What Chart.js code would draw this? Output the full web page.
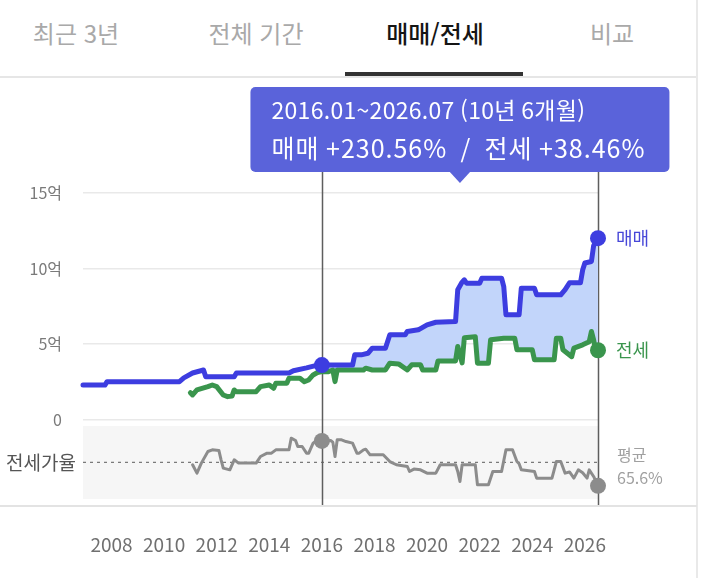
<!DOCTYPE html>
<html lang="ko">
<head>
<meta charset="utf-8">
<script src="https://cdn.jsdelivr.net/npm/chart.js@4.4.1/dist/chart.umd.min.js"></script>
<style>
  html, body { margin: 0; padding: 0; background: #fff; }
  body { width: 705px; height: 578px; position: relative; overflow: hidden;
         font-family: "Noto Sans CJK KR", "Noto Sans", sans-serif; }
  .tab { position: absolute; top: 13px; width: 180px; text-align: center;
         font-size: 24px; line-height: 40px; color: #a9a9a9; }
  .tab.on { color: #151515; font-weight: 500; }
  .bar { position: absolute; left: 345px; top: 72px; width: 178px; height: 4px; background: #333; }
  .rule { position: absolute; left: 0; top: 76px; width: 697px; height: 2px; background: #e6e6e6; }
  .edge { position: absolute; left: 696px; top: 0; width: 2px; height: 578px; background: #e9e9e9; }
  #wrap { position: absolute; left: 0; top: 80px; width: 705px; height: 498px; }
</style>
</head>
<body>
<div class="tab" style="left:-14px">최근 3년</div>
<div class="tab" style="left:166px">전체 기간</div>
<div class="tab on" style="left:345px">매매/전세</div>
<div class="tab" style="left:522px">비교</div>
<div class="bar"></div>
<div class="rule"></div>
<div class="edge"></div>
<div id="wrap"><canvas id="myChart"></canvas></div>

<script>
// 매매 (억)
const saleDates = ['2006.12','2007.10','2007.11','2010.08','2010.10','2011.02','2011.07','2011.08','2012.09','2012.10',
  '2014.10','2014.12','2015.06','2015.11','2016.01','2017.03','2017.04','2017.07','2017.10','2017.12',
  '2018.06','2018.08','2019.03','2019.04','2019.09','2020.01','2020.05','2021.02','2021.03','2021.05',
  '2021.06','2021.07','2022.01','2022.02','2022.11','2022.12','2023.01','2023.07','2023.08','2024.02',
  '2024.03','2025.02','2025.04','2025.06','2025.11','2025.12','2026.01','2026.04','2026.05','2026.07'];
const saleValues = [2.3,2.3,2.53,2.53,2.78,3.1,3.3,2.85,2.85,3.1,
  3.1,3.25,3.44,3.62,3.62,3.62,4.3,4.3,4.4,4.74,
  4.74,5.62,5.62,5.84,5.95,6.28,6.45,6.5,8.6,9.1,
  9.25,9.03,9.03,9.36,9.36,8.8,6.94,6.94,8.7,8.7,
  8.26,8.26,8.6,9.05,9.05,9.9,10.36,10.46,11.5,12.0];

// 전세 (억)
const jeonseDates = ['2011.01','2011.02','2011.04','2011.09','2011.11','2012.01','2012.04','2012.06','2012.08','2012.09',
  '2012.10','2013.07','2013.09','2014.01','2014.03','2014.04','2014.09','2014.10','2015.03','2015.05',
  '2015.07','2015.09','2015.11','2016.01','2016.04','2016.06','2016.07','2016.08','2017.08','2017.09',
  '2017.12','2018.06','2018.08','2018.12','2019.04','2019.06','2019.10','2019.11','2020.05','2020.06',
  '2021.02','2021.03','2021.05','2021.06','2021.11','2021.12','2022.05','2022.06','2022.12','2023.05',
  '2023.06','2024.01','2024.02','2024.11','2024.12','2025.02','2025.03','2025.05','2025.07','2025.08',
  '2025.12','2026.03','2026.04','2026.05','2026.06','2026.07'];
const jeonseValues = [1.8,1.65,1.98,2.2,2.31,2.2,1.65,1.54,1.58,1.98,
  1.87,1.87,2.2,2.31,2.09,2.42,2.42,2.75,2.75,2.53,
  2.64,2.97,3.13,3.2,3.19,3.3,2.53,3.3,3.3,3.42,
  3.3,3.3,3.75,3.7,3.3,3.64,3.64,3.3,3.3,3.9,
  3.9,4.85,3.77,5.42,5.5,3.75,3.75,5.29,5.4,5.4,
  4.63,4.63,3.97,3.97,5.4,5.4,4.63,4.4,4.18,4.74,
  4.96,5.17,5.84,5.29,4.5,4.6];

// 전세가율 (%)
const ratioDates = ['2011.02','2011.04','2011.06','2011.09','2011.11','2012.02','2012.03','2012.04','2012.07','2012.09',
  '2012.11','2013.07','2013.09','2013.12','2014.02','2014.04','2014.10','2014.11','2015.01','2015.02',
  '2015.04','2015.06','2015.07','2015.09','2015.11','2016.01','2016.05','2016.06','2016.07','2016.08',
  '2016.10','2016.12','2017.03','2017.05','2017.06','2017.08','2017.09','2017.11','2018.05','2018.08',
  '2018.11','2019.04','2019.05','2019.07','2019.10','2020.01','2020.05','2020.07','2021.02','2021.03',
  '2021.04','2021.05','2021.11','2021.12','2022.05','2022.07','2022.11','2023.01','2023.04','2023.06',
  '2023.07','2023.08','2024.02','2024.03','2024.10','2024.12','2025.02','2025.04','2025.06','2025.08',
  '2025.10','2025.12','2026.02','2026.03','2026.05','2026.07'];
const ratioValues = [62.7,52.6,64.7,78.7,80.7,80,68.7,58.7,56.6,68.7,
  64.7,64.7,72.7,76.7,76.7,80.7,80.7,94.8,92,84.7,
  84.7,76.7,76.7,88.8,92.8,91.5,92,90,72.7,92.8,
  92.8,90.7,88.8,76.7,76.7,80.7,81.5,74.7,74.7,66.6,
  62.7,60.6,54.6,57.5,56.6,52.6,52.6,62.7,62.7,54.6,
  42.5,62.7,62.7,38.6,38.6,54.6,54.6,80.7,80.7,66.6,
  64,56.6,54.6,46.6,46.6,66.6,66.6,52.6,54,46.6,
  56.6,53,46.6,56.6,48.6,37.3];
const ratioAverage = 65.6;

const yearTicks = [2008, 2010, 2012, 2014, 2016, 2018, 2020, 2022, 2024, 2026];
const priceTicks = [0, 5, 10, 15];

const periodStart = '2016.01';
const periodEnd = '2026.07';
const periodTitle = '2016.01~2026.07 (10년 6개월)';
const periodChange = '매매 +230.56%  /  전세 +38.46%';

const FONT = '"Noto Sans CJK KR", "Noto Sans", sans-serif';
const BLUE = '#3d3de0', GREEN = '#3a954d', GRAY = '#8c8c8c';

function toYear(s) {
  const p = s.split('.');
  return Number(p[0]) + (Number(p[1]) - 1) / 12;
}
function points(dates, vals) {
  return dates.map((d, i) => ({ x: toYear(d), y: vals[i] }));
}
const t0 = toYear(periodStart), t1 = toYear(periodEnd);
const inPeriod = p => p.x >= t0 - 1e-9;

const salePts = points(saleDates, saleValues);
const jeonsePts = points(jeonseDates, jeonseValues);
const ratioPts = points(ratioDates, ratioValues);

function marker(years) {
  return ctx => (ctx.raw && years.some(y => Math.abs(ctx.raw.x - y) < 1e-6)) ? 8 : 0;
}

const lineBase = {
  tension: 0, fill: false, clip: false, borderJoinStyle: 'round', borderCapStyle: 'round',
  pointBorderWidth: 0, pointHoverRadius: 0
};

const decor = {
  id: 'decor',
  beforeDatasetsDraw(chart) {
    const { ctx, chartArea: a, scales } = chart;
    const x = scales.x, r = scales.yr;
    ctx.save();
    // 전세가율 band
    ctx.fillStyle = '#f6f6f6';
    ctx.fillRect(a.left, a.bottom - 80, a.right - a.left, 73);
    // average line
    const ay = r.getPixelForValue(ratioAverage);
    ctx.strokeStyle = '#7a7a7a';
    ctx.lineWidth = 1.3;
    ctx.setLineDash([3, 4]);
    ctx.beginPath();
    ctx.moveTo(a.left, ay);
    ctx.lineTo(a.right + 3, ay);
    ctx.stroke();
    ctx.setLineDash([]);
    // period lines
    ctx.strokeStyle = '#5e5e5e';
    ctx.lineWidth = 1.5;
    [t0, t1].forEach(t => {
      const px = Math.round(x.getPixelForValue(t)) + 0.5;
      ctx.beginPath();
      ctx.moveTo(px, 92);
      ctx.lineTo(px, a.bottom);
      ctx.stroke();
    });
    ctx.restore();
  },
  afterDraw(chart) {
    const { ctx, chartArea: a, scales } = chart;
    const x = scales.x, y = scales.y, r = scales.yr;
    ctx.save();
    // bottom rule
    ctx.fillStyle = '#e3e3e3';
    ctx.fillRect(0, a.bottom - 1, 697, 2);

    // period box
    const mid = (x.getPixelForValue(t0) + x.getPixelForValue(t1)) / 2;
    const bw = 419, bh = 85, bx = mid - bw / 2, by = 7;
    ctx.fillStyle = '#5a63da';
    ctx.beginPath();
    ctx.roundRect(bx, by, bw, bh, 5);
    ctx.fill();
    ctx.beginPath();
    ctx.moveTo(mid - 11, by + bh - 1);
    ctx.lineTo(mid + 11, by + bh - 1);
    ctx.lineTo(mid, by + bh + 11);
    ctx.closePath();
    ctx.fill();
    ctx.fillStyle = '#fff';
    ctx.textBaseline = 'middle';
    ctx.textAlign = 'left';
    ctx.font = '23px ' + FONT;
    ctx.letterSpacing = '0.3px';
    ctx.fillText(periodTitle, bx + 21, by + 23);
    ctx.font = '25px ' + FONT;
    ctx.letterSpacing = '1px';
    ctx.fillText(periodChange, bx + 21, by + 61);
    ctx.letterSpacing = '0px';

    // series labels on the right
    const lx = a.right + 18;
    ctx.font = '18px ' + FONT;
    ctx.fillStyle = '#4747d8';
    ctx.fillText('매매', lx, y.getPixelForValue(saleValues[saleValues.length - 1]));
    ctx.fillStyle = GREEN;
    ctx.fillText('전세', lx, y.getPixelForValue(jeonseValues[jeonseValues.length - 1]));
    const ay = r.getPixelForValue(ratioAverage);
    ctx.font = '16px ' + FONT;
    ctx.fillStyle = '#a0a0a0';
    ctx.fillText('평균', lx + 1, ay - 7);
    ctx.fillText(ratioAverage + '%', lx + 1, ay + 16);

    // ratio axis label
    ctx.textAlign = 'right';
    ctx.font = '19px ' + FONT;
    ctx.fillStyle = '#555';
    ctx.fillText('전세가율', a.left - 7, ay);
    ctx.restore();
  }
};

const ctx = document.getElementById('myChart').getContext('2d');
const myChart = new Chart(ctx, {
  type: 'line',
  data: {
    datasets: [
      Object.assign({}, lineBase, {
        label: '매매', data: salePts, yAxisID: 'y',
        borderColor: BLUE, borderWidth: 5, pointBackgroundColor: BLUE,
        pointRadius: marker([t0, t1])
      }),
      Object.assign({}, lineBase, {
        label: '전세', data: jeonsePts, yAxisID: 'y',
        borderColor: GREEN, borderWidth: 5, pointBackgroundColor: GREEN,
        pointRadius: marker([t1])
      }),
      Object.assign({}, lineBase, {
        label: '전세가율', data: ratioPts, yAxisID: 'yr',
        borderColor: GRAY, borderWidth: 3, pointBackgroundColor: GRAY,
        pointRadius: marker([t0, t1])
      }),
      // gap between 매매 and 전세 inside the selected period
      Object.assign({}, lineBase, {
        label: 'gapTop', data: salePts.filter(inPeriod), yAxisID: 'y',
        borderWidth: 0, pointRadius: 0, backgroundColor: '#c2d5fa', fill: 4
      }),
      Object.assign({}, lineBase, {
        label: 'gapBottom', data: jeonsePts.filter(inPeriod), yAxisID: 'y',
        borderWidth: 0, pointRadius: 0
      })
    ]
  },
  options: {
    responsive: true,
    maintainAspectRatio: false,
    animation: false,
    events: [],
    layout: { padding: { top: 37, right: 107, bottom: 0, left: 0 } },
    plugins: { legend: { display: false }, tooltip: { enabled: false } },
    scales: {
      x: {
        type: 'linear',
        min: toYear(saleDates[0]),
        max: t1,
        grid: { display: false, drawTicks: false },
        border: { display: false },
        afterBuildTicks: s => { s.ticks = yearTicks.map(v => ({ value: v })); },
        afterFit: s => { s.height = 72; },
        ticks: {
          autoSkip: false, maxRotation: 0, padding: 27,
          color: '#707070', font: { family: FONT, size: 19 },
          callback: v => String(v)
        }
      },
      y: {
        position: 'left',
        min: -5.68,
        max: 20,
        grid: { color: '#e9e9e9', lineWidth: 1.5, drawTicks: false },
        border: { display: false },
        afterBuildTicks: s => { s.ticks = priceTicks.map(v => ({ value: v })); },
        afterFit: s => { s.width = 83; },
        ticks: {
          padding: 21, color: '#7a7a7a', font: { family: FONT, size: 16 },
          callback: v => v === 0 ? '0' : v + '억'
        }
      },
      // ratio axis: stretched so its values sit in the lower band
      yr: {
        position: 'left',
        display: false,
        min: 13,
        max: 482
      }
    }
  },
  plugins: [decor]
});
</script>
</body>
</html>
